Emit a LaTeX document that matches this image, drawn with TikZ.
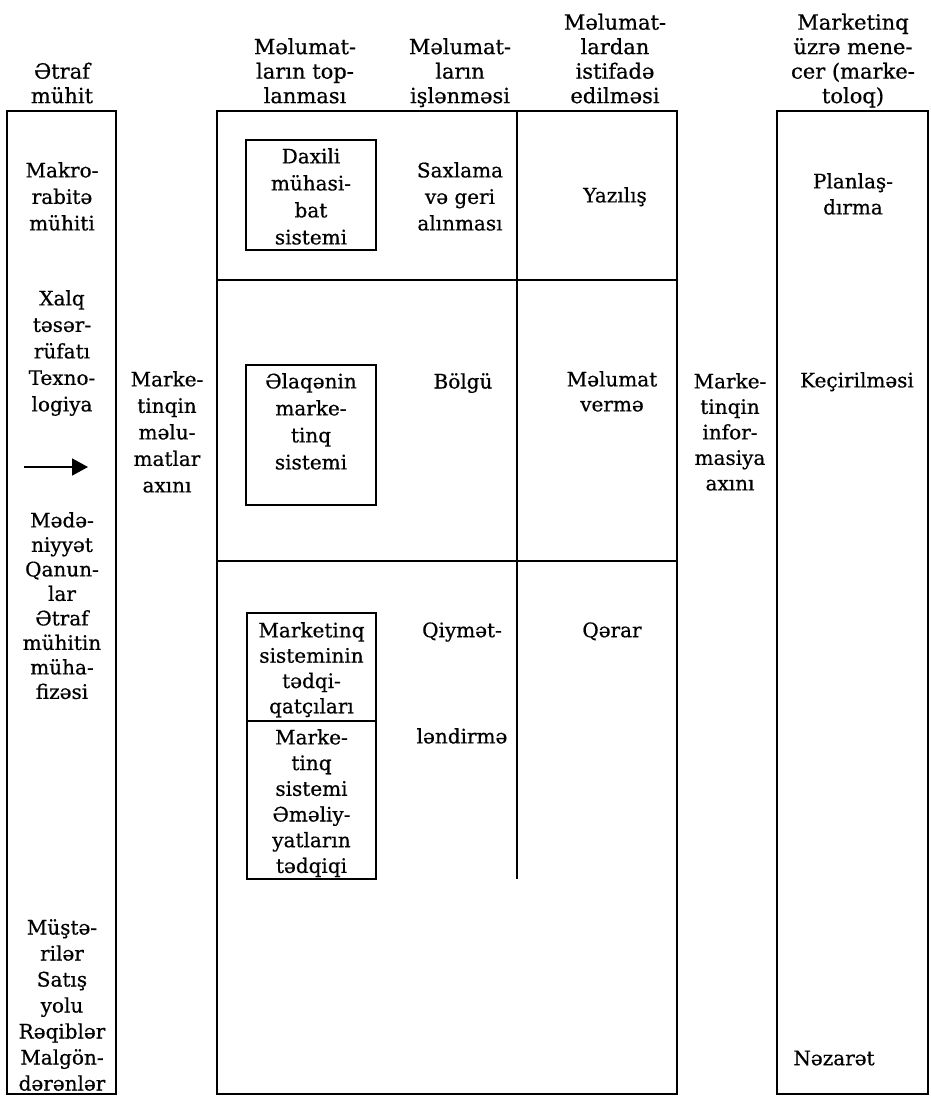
\documentclass[tikz,border=0pt]{standalone}
\usepackage{fontspec}
\setmainfont{DejaVu Serif}[FakeBold=0.6]
\usetikzlibrary{arrows.meta}
% first line of every text block gets a fixed height, so that the
% north anchor sits exactly 15pt above the first baseline
\newcommand\firststrut{\rule{0pt}{15pt}}
\tikzset{
  frame/.style={line width=2.3pt},
  inbox/.style={line width=2.3pt},
  txt/.style={anchor=north, inner sep=0pt, align=center,
              font=\fontsize{20}{#1}\selectfont},
  txt/.default=26,
  head/.style={anchor=north, inner sep=0pt, align=center,
               font=\fontsize{21}{24.5}\selectfont},
  flowarrow/.style={line width=1.8pt, -{Triangle[length=16pt,width=17pt]}}
}
\begin{document}
\begin{tikzpicture}[x=1pt,y=-1pt]
\useasboundingbox (0,0) rectangle (930,1096);

% ---- column frames ----
\draw[frame] (7,111) rectangle (116,1094);
\draw[frame] (217,111) rectangle (677,1094);
\draw[frame] (777,111) rectangle (928,1094);
\draw[frame] (517,111) -- (517,879);
\draw[frame] (217,280) -- (677,280);
\draw[frame] (217,561) -- (677,561);

% ---- inner boxes of the collection column ----
\draw[inbox] (246,140) rectangle (376,250);
\draw[inbox] (246,365) rectangle (376,505);
\draw[inbox] (247,613) rectangle (376,721);
\draw[inbox] (247,721) rectangle (376,879);

% ---- column headings ----
\node[head] (hEnv)  at (62,62.5)  {\firststrut Ətraf\\mühit};
\node[head] (hCol)  at (305,38)   {\firststrut Məlumat-\\ların top-\\lanması};
\node[head] (hProc) at (460,38)   {\firststrut Məlumat-\\ların\\işlənməsi};
\node[head] (hUse)  at (615,13.5) {\firststrut Məlumat-\\lardan\\istifadə\\edilməsi};
\node[head] (hMgr)  at (853,13.5) {\firststrut Marketinq\\üzrə mene-\\cer (marke-\\toloq)};

% ---- environment column ----
\node[txt=26.5] (eMacro) at (62,162) {\firststrut Makro-\\rabitə\\mühiti};
\node[txt=26.5] (eEcon)  at (62,290) {\firststrut Xalq\\təsər-\\rüfatı\\Texno-\\logiya};
\coordinate (arrTail) at (24,467);
\coordinate (arrTip)  at (88,467);
\draw[flowarrow] (arrTail) -- (arrTip);
\node[txt=24.5] (eCult)  at (62,512) {\firststrut Mədə-\\niyyət\\Qanun-\\lar\\Ətraf\\mühitin\\müha-\\fizəsi};
\node[txt=26]   (eMkt)   at (62,919) {\firststrut Müştə-\\rilər\\Satış\\yolu\\Rəqiblər\\Malgön-\\dərənlər};

% ---- incoming flow ----
\node[txt=26.5] (flowIn) at (167,371) {\firststrut Marke-\\tinqin\\məlu-\\matlar\\axını};

% ---- collection column ----
\node[txt=27]   (cInt) at (311,148) {\firststrut Daxili\\mühasi-\\bat\\sistemi};
\node[txt=27]   (cCom) at (311,373) {\firststrut Əlaqənin\\marke-\\tinq\\sistemi};
\node[txt=25.3] (cRes) at (311.5,622) {\firststrut Marketinq\\sisteminin\\tədqi-\\qatçıları};
\node[txt=25.7] (cOps) at (311.5,729) {\firststrut Marke-\\tinq\\sistemi\\Əməliy-\\yatların\\tədqiqi};

% ---- processing column ----
\node[txt=26.5] (pStore) at (460,162) {\firststrut Saxlama\\və geri\\alınması};
\node[txt]      (pDist)  at (463,373) {\firststrut Bölgü};
\node[txt]      (pEval1) at (462,622) {\firststrut Qiymət-};
\node[txt]      (pEval2) at (462,728) {\firststrut ləndirmə};

% ---- usage column ----
\node[txt]    (uWrite)  at (615,187) {\firststrut Yazılış};
\node[txt=25] (uInform) at (612,371) {\firststrut Məlumat\\vermə};
\node[txt]    (uDecide) at (612,622) {\firststrut Qərar};

% ---- outgoing flow ----
\node[txt=25.5] (flowOut) at (730,373) {\firststrut Marke-\\tinqin\\infor-\\masiya\\axını};

% ---- manager column ----
\node[txt] (mPlan)    at (853,173)  {\firststrut Planlaş-\\dırma};
\node[txt] (mExec)    at (857,372)  {\firststrut Keçirilməsi};
\node[txt] (mControl) at (834,1050) {\firststrut Nəzarət};
\end{tikzpicture}
\end{document}
